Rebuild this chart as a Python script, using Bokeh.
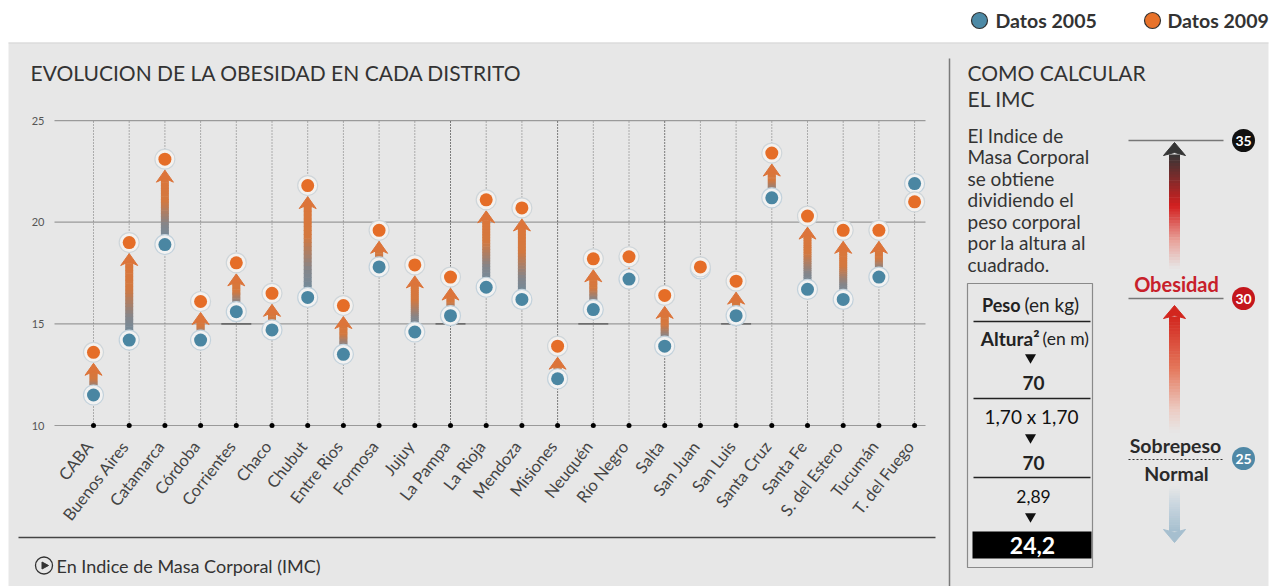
import numpy as np
from bokeh.plotting import figure
from bokeh.models import Range1d
from bokeh.embed import file_html
from bokeh.resources import INLINE
from bokeh.core.properties import value

# ---------------- data ----------------
distritos = ["CABA", "Buenos Aires", "Catamarca", "Córdoba", "Corrientes", "Chaco",
             "Chubut", "Entre Rios", "Formosa", "Jujuy", "La Pampa", "La Rioja",
             "Mendoza", "Misiones", "Neuquén", "Río Negro", "Salta", "San Juan",
             "San Luis", "Santa Cruz", "Santa Fe", "S. del Estero", "Tucumán",
             "T. del Fuego"]
imc_2005 = [11.5, 14.2, 18.9, 14.2, 15.6, 14.7, 16.3, 13.5, 17.8, 14.6, 15.4, 16.8,
            16.2, 12.3, 15.7, 17.2, 13.9, 17.7, 15.4, 21.2, 16.7, 16.2, 17.3, 21.9]
imc_2009 = [13.6, 19.0, 23.1, 16.1, 18.0, 16.5, 21.8, 15.9, 19.6, 17.9, 17.3, 21.1,
            20.7, 13.9, 18.2, 18.3, 16.4, 17.8, 17.1, 23.4, 20.3, 19.6, 19.6, 21.0]
lineas_oscuras = ["La Pampa", "Misiones", "Salta"]
marcas_15 = ["Corrientes", "La Pampa", "Neuquén", "San Luis"]
y_ticks = [10, 15, 20, 25]
y_tick_labels = ["10", "15", "20", "25"]
leyenda = ["Datos 2005", "Datos 2009"]
titulo = "EVOLUCION DE LA OBESIDAD EN CADA DISTRITO"
nota = "En Indice de Masa Corporal (IMC)"
panel_titulo = ["COMO CALCULAR", "EL IMC"]
panel_texto = ["El Indice de", "Masa Corporal", "se obtiene", "dividiendo el",
               "peso corporal", "por la altura al", "cuadrado."]
formula_bold = ["Peso", "Altura²"]
formula_norm = ["(en kg)", "(en m)"]
ejemplo_bold = ["70", "70"]
ejemplo_norm = ["1,70 x 1,70", "2,89"]
resultado = "24,2"
escala_valores = ["35", "30", "25"]
escala_obesidad = "Obesidad"
escala_sobrepeso = "Sobrepeso"
escala_normal = "Normal"

# ---------------- layout ----------------
W, H = 1279, 586
FONT = value("Lato")
X_FIRST, X_STEP = 93.0, 35.7     # page x of first district, spacing
Y_BASE, Y_UNIT = 425.0, 20.33    # page y of IMC 10, px per IMC unit

xr = Range1d((0 - X_FIRST) / X_STEP, (W - X_FIRST) / X_STEP)
yr = Range1d(10 + (Y_BASE - H) / Y_UNIT, 10 + Y_BASE / Y_UNIT)
PPX = W / (xr.end - xr.start)
PPY = H / (yr.end - yr.start)

p = figure(width=W, height=H, x_range=xr, y_range=yr, output_backend="svg",
           toolbar_location=None, x_axis_type=None, y_axis_type=None,
           min_border=0, title=None)
p.outline_line_color = None
p.background_fill_color = "white"
p.border_fill_color = "white"
p.extra_x_ranges = {"px": Range1d(0, W)}
p.extra_y_ranges = {"py": Range1d(H, 0)}
PX = dict(x_range_name="px", y_range_name="py")

BG = "#e7e7e7"
ORANGE = "#e56d27"
BLUE = "#4a86a2"
TXT = "#333333"


def hex2rgb(h):
    return [int(h[i:i + 2], 16) for i in (1, 3, 5)]


def interp_colors(stops, ts):
    st = np.array([s[0] for s in stops])
    cs = np.array([hex2rgb(s[1]) for s in stops], float)
    out = []
    for t in ts:
        rgb = [int(round(np.interp(t, st, cs[:, k]))) for k in range(3)]
        out.append("#%02x%02x%02x" % tuple(rgb))
    return out


def gradient(y_from, y_to, stops, n, eps):
    ts = np.linspace(0, 1, n + 1)
    ys = y_from + (y_to - y_from) * ts
    tm = (ts[:-1] + ts[1:]) / 2
    sign = 1 if y_to > y_from else -1
    return list(ys[:-1]), list(ys[1:] + sign * eps), interp_colors(stops, tm)


# gray panel
p.quad(left=[8], right=[1268], top=[42], bottom=[H], fill_color=BG,
       line_color=None, **PX)
p.segment(x0=[8], x1=[1268], y0=[42.5], y1=[42.5], line_color="#d6d6d6",
          line_width=1, **PX)

# ---------------- main chart ----------------
n = len(distritos)
xi = np.arange(n)
grid_left = (54 - X_FIRST) / X_STEP
grid_right = (925 - X_FIRST) / X_STEP

# horizontal grid
p.segment(x0=[grid_left] * len(y_ticks), x1=[grid_right] * len(y_ticks),
          y0=y_ticks, y1=y_ticks, line_color="#9a9a9a", line_width=1.2)
mk = [distritos.index(d) for d in marcas_15]
p.segment(x0=[i - 0.42 for i in mk], x1=[i + 0.42 for i in mk], y0=[15] * len(mk),
          y1=[15] * len(mk), line_color="#6a6a6a", line_width=1.6)
# y tick labels
p.text(x=[grid_left - 10 / PPX] * len(y_ticks), y=y_ticks, text=y_tick_labels,
       text_font=FONT, text_font_size="11px", text_color="#555555",
       text_align="right", text_baseline="middle")
# vertical dotted lines
vcol = ["#111111" if d in lineas_oscuras else "#707070" for d in distritos]
p.segment(x0=xi, x1=xi, y0=[min(y_ticks)] * n, y1=[max(y_ticks)] * n,
          line_color=vcol, line_width=1, line_dash="1 2")
# base dots
p.scatter(x=xi, y=[min(y_ticks)] * n, size=5, fill_color="black", line_color=None)

# arrow shafts with gradient
shaft_stops = [(0.0, "#6a8ca2"), (0.3, "#85858a"), (0.65, "#d3783f"), (1.0, "#dc763a")]
sx0, sy0, sy1, scol = [], [], [], []
hxs, hys = [], []
tip_gap, head_len, head_hw, notch = 11 / PPY, 12 / PPY, 8.5 / PPX, 4 / PPY
for i in range(n):
    a, b = imc_2005[i], imc_2009[i]
    if b - a <= 0.4:
        continue
    tip = b - tip_gap
    base = tip - head_len
    top = base + notch + 1 / PPY
    if top > a:
        y_a, y_b, cols = gradient(a, top, shaft_stops, 24, 0.6 / PPY)
        sx0 += [i] * len(y_a)
        sy0 += y_a
        sy1 += y_b
        scol += cols
    hxs.append([i, i + head_hw, i, i - head_hw])
    hys.append([tip, base, base + notch, base])
p.segment(x0=sx0, x1=sx0, y0=sy0, y1=sy1, line_color=scol, line_width=8,
          line_cap="butt")
p.patches(xs=hxs, ys=hys, fill_color="#dc743a", line_color="#dc743a", line_width=1)

# dots
p.scatter(x=xi, y=imc_2005, size=20, fill_color="#f2f2f2", line_color="#c3d2dc",
          line_width=1.2)
p.scatter(x=xi, y=imc_2005, size=13, fill_color=BLUE, line_color=None)
p.scatter(x=xi, y=imc_2009, size=20, fill_color="#f4f1ee", line_color="#cfd6da",
          line_width=1.2)
p.scatter(x=xi, y=imc_2009, size=13, fill_color=ORANGE, line_color=None)

# x labels
p.text(x=xi - 0.12, y=[min(y_ticks) - 0.88] * n, text=distritos, angle=52,
       angle_units="deg", text_font=FONT, text_font_size="16.5px",
       text_color="#444444", text_align="right", text_baseline="middle")

# title
p.text(x=[30], y=[72], text=[titulo], text_font=FONT, text_font_size="21px",
       text_color=TXT, text_baseline="middle", **PX)

# bottom rule + note
p.segment(x0=[18], x1=[935], y0=[537], y1=[537], line_color="#444444",
          line_width=1.5, **PX)
p.scatter(x=[43.5], y=[565], size=17, fill_color=None, line_color="#333333",
          line_width=1.3, **PX)
p.patch(x=[41.5, 41.5, 48], y=[561.5, 568.5, 565], fill_color="#333333",
        line_color="#333333", **PX)
p.text(x=[56], y=[565], text=[nota], text_font=FONT, text_font_size="18px",
       text_color=TXT, text_baseline="middle", **PX)

# legend
p.scatter(x=[979, 1152], y=[20, 20], size=16, fill_color=["#4d8aa6", "#e8722a"],
          line_color="#333333", line_width=1.2, **PX)
p.text(x=[995, 1167], y=[20, 20], text=leyenda, text_font=FONT,
       text_font_size="19.5px", text_font_style="bold", text_color=TXT,
       text_baseline="middle", **PX)

# ---------------- right panel ----------------
p.segment(x0=[949], x1=[949], y0=[58], y1=[H], line_color="#7a7a7a",
          line_width=1.5, **PX)
p.text(x=[967, 967], y=[72, 98], text=panel_titulo, text_font=FONT,
       text_font_size="21px", text_color=TXT, text_baseline="middle", **PX)
p.text(x=[967] * len(panel_texto),
       y=list(134.5 + 21.5 * np.arange(len(panel_texto))), text=panel_texto,
       text_font=FONT, text_font_size="19px", text_color=TXT,
       text_baseline="middle", **PX)

# formula box
p.quad(left=[967], right=[1092], top=[283], bottom=[567], fill_color=None,
       line_color="#8a8a8a", line_width=1.2, **PX)
p.text(x=[1020, 1039], y=[304, 338], text=formula_bold, text_font=FONT,
       text_font_size=["18px", "19px"], text_font_style="bold",
       text_color="#222222", text_align="right", text_baseline="middle", **PX)
p.text(x=[1024, 1042], y=[304, 338], text=formula_norm, text_font=FONT,
       text_font_size=["19px", "17.5px"], text_color="#222222", text_align="left",
       text_baseline="middle", **PX)
p.segment(x0=[973] * 3, x1=[1090] * 3, y0=[321, 398, 477], y1=[321, 398, 477],
          line_color="#222222", line_width=1.3, **PX)
p.scatter(x=[1030] * 3, y=[357, 437, 516], marker="inverted_triangle", size=11,
          fill_color="#111111", line_color=None, **PX)
p.text(x=[1033, 1033], y=[382, 462], text=ejemplo_bold, text_font=FONT,
       text_font_size="19px", text_font_style="bold", text_color="#222222",
       text_align="center", text_baseline="middle", **PX)
p.text(x=[1031, 1033], y=[416, 496], text=ejemplo_norm, text_font=FONT,
       text_font_size=["19px", "17.5px"], text_color="#111111",
       text_align="center", text_baseline="middle", **PX)
p.quad(left=[972], right=[1091], top=[531], bottom=[558], fill_color="black",
       line_color=None, **PX)
p.text(x=[1032], y=[545], text=[resultado], text_font=FONT, text_font_size="23px",
       text_font_style="bold", text_color="white", text_align="center",
       text_baseline="middle", **PX)

# scale
p.segment(x0=[1128, 1128], x1=[1223, 1223], y0=[140, 298], y1=[140, 298],
          line_color="#777777", line_width=1.5, **PX)
p.segment(x0=[1128], x1=[1223], y0=[459], y1=[459], line_color="#333333",
          line_width=1.2, line_dash="2 2", **PX)

ax = 1174
segs = []
segs.append(gradient(154, 268, [(0, "#353535"), (0.45, "#d21f1f"), (0.75, "#e8a098"),
                                (1, BG)], 40, 0.6))
segs.append(gradient(316, 432, [(0, "#d2261e"), (0.45, "#e4785c"), (0.8, "#eccbc2"),
                                (1, BG)], 40, 0.6))
segs.append(gradient(531, 486, [(0, "#a6bfcf"), (0.6, "#c9d6df"), (1, BG)], 20, 0.6))
for ya, yb, cols in segs:
    p.segment(x0=[ax] * len(ya), x1=[ax] * len(ya), y0=ya, y1=yb, line_color=cols,
              line_width=11, line_cap="butt", **PX)
p.patches(xs=[[ax, ax + 11, ax, ax - 11], [ax, ax + 11, ax, ax - 11],
              [ax, ax + 11, ax, ax - 11]],
          ys=[[142, 155, 152, 155], [305, 318, 315, 318], [542, 529, 532, 529]],
          fill_color=["#353535", "#d2261e", "#a6bfcf"],
          line_color=["#353535", "#d2261e", "#a6bfcf"], **PX)

p.text(x=[1176], y=[283], text=[escala_obesidad], text_font=FONT,
       text_font_size="20px", text_font_style="bold", text_color="#c8202a",
       text_align="center", text_baseline="middle", **PX)
p.text(x=[1175, 1176], y=[445, 473], text=[escala_sobrepeso, escala_normal],
       text_font=FONT, text_font_size="19.5px", text_font_style="bold",
       text_color="#2a2a2a", text_align="center", text_baseline="middle", **PX)
p.scatter(x=[1243] * 3, y=[140, 298, 458], size=23,
          fill_color=["#111111", "#c4161c", "#4f88a6"], line_color=None, **PX)
p.text(x=[1243] * 3, y=[140, 298, 458], text=escala_valores, text_font=FONT,
       text_font_size="14px", text_font_style="bold", text_color="white",
       text_align="center", text_baseline="middle", **PX)

open("out.html", "w").write(file_html(p, INLINE))
